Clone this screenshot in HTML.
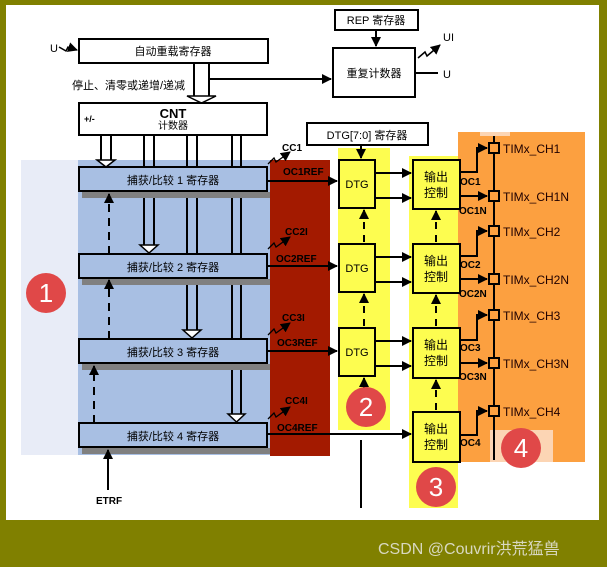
<!DOCTYPE html>
<html><head><meta charset="utf-8"><style>
body{margin:0;background:#808000;}
svg{display:block;font-family:"Liberation Sans","Noto Sans CJK SC",sans-serif;}
</style></head><body>
<svg width="607" height="567" viewBox="0 0 607 567" xmlns="http://www.w3.org/2000/svg">
<defs>
<marker id="a" markerWidth="10" markerHeight="10" refX="9" refY="5" orient="auto" markerUnits="userSpaceOnUse"><path d="M0,0 L10,5 L0,10z" fill="#000"/></marker>
</defs>
<rect x="6" y="5" width="593" height="515" fill="#fff"/>
<rect x="21" y="160" width="60" height="295" fill="#e8ecf7"/>
<rect x="78" y="160" width="192" height="295" fill="#a8bfe3"/>
<rect x="270" y="160" width="60" height="296" fill="#a31a00"/>
<rect x="338" y="148" width="52" height="282" fill="#fdfd50"/>
<rect x="409" y="156" width="49" height="352" fill="#fdfd50"/>
<rect x="458" y="132" width="127" height="330" fill="#fca040"/>
<rect x="490" y="430" width="63" height="32" fill="#fcd5b4"/>
<rect x="480" y="132" width="30" height="4" fill="#fcd5b4"/>
<g stroke="#000" stroke-width="2" fill="none">
<rect x="79" y="39" width="189" height="24" fill="#fff"/>
<rect x="333" y="48" width="82" height="49" fill="#fff"/>
<rect x="335" y="10" width="83" height="20" fill="#fff"/>
<line x1="376" y1="30" x2="376" y2="46" marker-end="url(#a)"/>
<line x1="209" y1="79" x2="331" y2="79" marker-end="url(#a)"/>
<line x1="415" y1="73" x2="438" y2="73"/>
<path d="M59,47 L66,51 L68,47 L77,50" marker-end="url(#a)" stroke-width="1.5"/>
<path d="M418,58 L425,52 L427,56 L440,45" marker-end="url(#a)" stroke-width="1.5"/>
<line x1="194" y1="63" x2="194" y2="96"/><line x1="209" y1="63" x2="209" y2="96"/>
<path d="M187,96 L216,96 L201.5,103z" fill="#fff" stroke-width="1.5"/>
<rect x="79" y="103" width="188" height="32" fill="#fff"/>
<rect x="307" y="123" width="121" height="22" fill="#fff"/>
<line x1="101" y1="135" x2="101" y2="160"/><line x1="111" y1="135" x2="111" y2="160"/>
<path d="M97,160 L115,160 L106,167z" fill="#fff" stroke-width="1.5"/>
<line x1="144" y1="135" x2="144" y2="245"/><line x1="154" y1="135" x2="154" y2="245"/>
<path d="M140,245 L158,245 L149,253z" fill="#fff" stroke-width="1.5"/>
<line x1="187" y1="135" x2="187" y2="330"/><line x1="197" y1="135" x2="197" y2="330"/>
<path d="M183,330 L201,330 L192,338z" fill="#fff" stroke-width="1.5"/>
<line x1="232" y1="135" x2="232" y2="414"/><line x1="241" y1="135" x2="241" y2="414"/>
<path d="M228,414 L245,414 L236.5,422z" fill="#fff" stroke-width="1.5"/>
</g>
<g fill="#808080">
<rect x="82" y="192" width="188" height="6"/><rect x="82" y="279" width="188" height="6"/>
<rect x="82" y="364" width="188" height="6"/><rect x="82" y="448" width="188" height="6"/>
</g>
<g stroke="#000" stroke-width="2" fill="#a8bfe3">
<rect x="79" y="167" width="188" height="24"/><rect x="79" y="254" width="188" height="24"/>
<rect x="79" y="339" width="188" height="24"/><rect x="79" y="423" width="188" height="24"/>
</g>
<g stroke="#000" stroke-width="2" fill="none">
<line x1="109" y1="254" x2="109" y2="194" stroke-dasharray="8,6" marker-end="url(#a)"/>
<line x1="109" y1="339" x2="109" y2="280" stroke-dasharray="8,6" marker-end="url(#a)"/>
<line x1="94" y1="423" x2="94" y2="366" stroke-dasharray="8,6" marker-end="url(#a)"/>
<line x1="108" y1="490" x2="108" y2="450" marker-end="url(#a)"/>
<line x1="267" y1="181" x2="337" y2="181" marker-end="url(#a)"/>
<line x1="267" y1="266" x2="337" y2="266" marker-end="url(#a)"/>
<line x1="267" y1="351" x2="337" y2="351" marker-end="url(#a)"/>
<line x1="267" y1="434" x2="411" y2="434" marker-end="url(#a)"/>
<path d="M268,164 L274,158 L276,162 L290,152" marker-end="url(#a)" stroke-width="1.3"/>
<path d="M268,249 L274,243 L276,247 L290,237" marker-end="url(#a)" stroke-width="1.3"/>
<path d="M268,335 L274,329 L276,333 L290,323" marker-end="url(#a)" stroke-width="1.3"/>
<path d="M268,419 L274,413 L276,417 L290,407" marker-end="url(#a)" stroke-width="1.3"/>
<rect x="339" y="160" width="36" height="48" fill="#fdfd50"/>
<rect x="339" y="244" width="36" height="48" fill="#fdfd50"/>
<rect x="339" y="328" width="36" height="48" fill="#fdfd50"/>
<line x1="361" y1="145" x2="361" y2="158" marker-end="url(#a)"/>
<line x1="364" y1="242" x2="364" y2="210" stroke-dasharray="7,6" marker-end="url(#a)"/>
<line x1="364" y1="326" x2="364" y2="294" stroke-dasharray="7,6" marker-end="url(#a)"/>
<line x1="364" y1="390" x2="364" y2="378" marker-end="url(#a)"/>
<line x1="361" y1="440" x2="361" y2="508"/>
<rect x="413" y="160" width="47" height="49" fill="#fdfd50"/>
<rect x="413" y="244" width="47" height="49" fill="#fdfd50"/>
<rect x="413" y="328" width="47" height="50" fill="#fdfd50"/>
<rect x="413" y="412" width="47" height="50" fill="#fdfd50"/>
<line x1="436" y1="242" x2="436" y2="211" stroke-dasharray="7,6" marker-end="url(#a)"/>
<line x1="436" y1="326" x2="436" y2="295" stroke-dasharray="7,6" marker-end="url(#a)"/>
<line x1="436" y1="410" x2="436" y2="380" stroke-dasharray="7,6" marker-end="url(#a)"/>
<line x1="375" y1="173" x2="411" y2="173" marker-end="url(#a)"/>
<line x1="375" y1="198" x2="411" y2="198" marker-end="url(#a)"/>
<line x1="375" y1="257" x2="411" y2="257" marker-end="url(#a)"/>
<line x1="375" y1="282" x2="411" y2="282" marker-end="url(#a)"/>
<line x1="375" y1="341" x2="411" y2="341" marker-end="url(#a)"/>
<line x1="375" y1="366" x2="411" y2="366" marker-end="url(#a)"/>
<line x1="494" y1="136" x2="494" y2="460"/>
<path d="M460,172 L477,172 L477,148 L487,148" marker-end="url(#a)"/>
<line x1="460" y1="196" x2="487" y2="196" marker-end="url(#a)"/>
<path d="M460,256 L477,256 L477,231 L487,231" marker-end="url(#a)"/>
<line x1="460" y1="279" x2="487" y2="279" marker-end="url(#a)"/>
<path d="M460,340 L477,340 L477,315 L487,315" marker-end="url(#a)"/>
<line x1="460" y1="363" x2="487" y2="363" marker-end="url(#a)"/>
<path d="M460,435 L477,435 L477,411 L487,411" marker-end="url(#a)"/>
<g fill="#fca040">
<rect x="489" y="143" width="10" height="10"/><rect x="489" y="191" width="10" height="10"/>
<rect x="489" y="226" width="10" height="10"/><rect x="489" y="274" width="10" height="10"/>
<rect x="489" y="310" width="10" height="10"/><rect x="489" y="358" width="10" height="10"/>
<rect x="489" y="406" width="10" height="10"/>
</g>
</g>
<g font-size="10" fill="#000">
<text x="173" y="55" text-anchor="middle" font-size="11">自动重载寄存器</text>
<text x="374" y="77" text-anchor="middle" font-size="11">重复计数器</text>
<text x="376" y="24" text-anchor="middle" font-size="11">REP 寄存器</text>
<text x="50" y="52" font-size="11">U</text>
<text x="443" y="41" font-size="11">UI</text>
<text x="443" y="78" font-size="11">U</text>
<text x="72" y="89" font-size="11">停止、清零或递增/递减</text>
<text x="84" y="122" font-weight="bold" font-size="9">+/-</text>
<text x="173" y="118" text-anchor="middle" font-weight="bold" font-size="13">CNT</text>
<text x="173" y="129" text-anchor="middle">计数器</text>
<text x="367" y="139" text-anchor="middle" font-size="11">DTG[7:0] 寄存器</text>
<text x="173" y="184" text-anchor="middle" font-size="11">捕获/比较 1 寄存器</text>
<text x="173" y="271" text-anchor="middle" font-size="11">捕获/比较 2 寄存器</text>
<text x="173" y="356" text-anchor="middle" font-size="11">捕获/比较 3 寄存器</text>
<text x="173" y="440" text-anchor="middle" font-size="11">捕获/比较 4 寄存器</text>
<g font-weight="bold" font-size="10">
<text x="282" y="151">CC1</text><text x="283" y="175">OC1REF</text>
<text x="285" y="235">CC2I</text><text x="276" y="262">OC2REF</text>
<text x="282" y="321">CC3I</text><text x="277" y="346">OC3REF</text>
<text x="285" y="404">CC4I</text><text x="277" y="431">OC4REF</text>
<text x="96" y="504">ETRF</text>
<text x="460" y="185">OC1</text><text x="459" y="214">OC1N</text>
<text x="460" y="268">OC2</text><text x="459" y="297">OC2N</text>
<text x="460" y="351">OC3</text><text x="459" y="380">OC3N</text>
<text x="460" y="446">OC4</text>
</g>
<text x="357" y="188" text-anchor="middle" font-size="11">DTG</text>
<text x="357" y="272" text-anchor="middle" font-size="11">DTG</text>
<text x="357" y="356" text-anchor="middle" font-size="11">DTG</text>
<g text-anchor="middle" font-size="12">
<text x="436" y="181">输出</text><text x="436" y="197">控制</text>
<text x="436" y="265">输出</text><text x="436" y="281">控制</text>
<text x="436" y="349">输出</text><text x="436" y="365">控制</text>
<text x="436" y="433">输出</text><text x="436" y="449">控制</text>
</g>
<g font-size="12" fill="#200000">
<text x="503" y="153">TIMx_CH1</text><text x="503" y="201">TIMx_CH1N</text>
<text x="503" y="236">TIMx_CH2</text><text x="503" y="284">TIMx_CH2N</text>
<text x="503" y="320">TIMx_CH3</text><text x="503" y="368">TIMx_CH3N</text>
<text x="503" y="416">TIMx_CH4</text>
</g>
</g>
<g fill="#e04848">
<circle cx="46" cy="293" r="20"/><circle cx="366" cy="407" r="20"/>
<circle cx="436" cy="487" r="20"/><circle cx="521" cy="448" r="20"/>
</g>
<g fill="#fff" font-size="26" text-anchor="middle">
<text x="46" y="302">1</text><text x="366" y="416">2</text>
<text x="436" y="496">3</text><text x="521" y="457">4</text>
</g>
<text x="378" y="554" font-size="16" fill="#d8d8c0">CSDN @Couvrir洪荒猛兽</text>
</svg>
</body></html>
